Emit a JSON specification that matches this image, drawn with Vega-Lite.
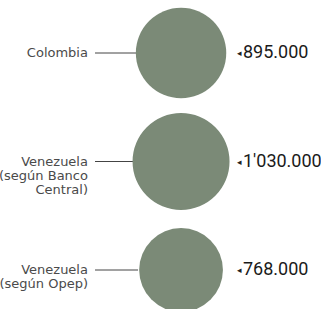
{
  "$schema": "https://vega.github.io/schema/vega-lite/v6.json",
  "width": 321,
  "height": 309,
  "padding": 0,
  "autosize": "none",
  "background": "white",
  "config": {"view": {"stroke": null}},
  "data": {"values": [
    {"pais": "Colombia", "etiqueta": "Colombia", "barriles": 895000, "texto": "895.000"},
    {"pais": "Venezuela BC", "etiqueta": "Venezuela\n(según Banco\nCentral)", "barriles": 1030000, "texto": "1'030.000"},
    {"pais": "Venezuela Opep", "etiqueta": "Venezuela\n(según Opep)", "barriles": 768000, "texto": "768.000"}
  ]},
  "encoding": {
    "y": {"field": "pais", "type": "nominal", "sort": null, "scale": {"type": "point", "padding": 0, "range": [53, 270]}, "axis": null}
  },
  "layer": [
    {
      "mark": {"type": "rule", "color": "#444", "strokeWidth": 1},
      "encoding": {
        "x": {"datum": 29.6, "type": "quantitative", "scale": {"domain": [0, 100], "nice": false, "zero": false}, "axis": null},
        "x2": {"datum": 43}
      }
    },
    {
      "mark": {"type": "circle", "opacity": 1, "color": "#7b8a77"},
      "encoding": {
        "x": {"datum": 56.4, "type": "quantitative"},
        "size": {"field": "barriles", "type": "quantitative", "scale": {"domain": [0, 1030000], "range": [0, 9409]}, "legend": null}
      }
    },
    {
      "mark": {"type": "text", "align": "right", "baseline": "middle", "lineBreak": "\n", "lineHeight": 14, "fontSize": 13, "font": "DejaVu Sans", "color": "#4a4a4a"},
      "encoding": {
        "x": {"datum": 27.4, "type": "quantitative"},
        "text": {"field": "etiqueta"}
      }
    },
    {
      "mark": {"type": "text", "align": "right", "baseline": "middle", "fontSize": 9, "color": "#222"},
      "encoding": {
        "x": {"datum": 75.4, "type": "quantitative"},
        "text": {"value": "◂"}
      }
    },
    {
      "mark": {"type": "text", "align": "left", "baseline": "middle", "fontSize": 18, "font": "Roboto", "fontWeight": "normal", "color": "#1a1a1a"},
      "encoding": {
        "x": {"datum": 75.7, "type": "quantitative"},
        "text": {"field": "texto"}
      }
    }
  ]
}
